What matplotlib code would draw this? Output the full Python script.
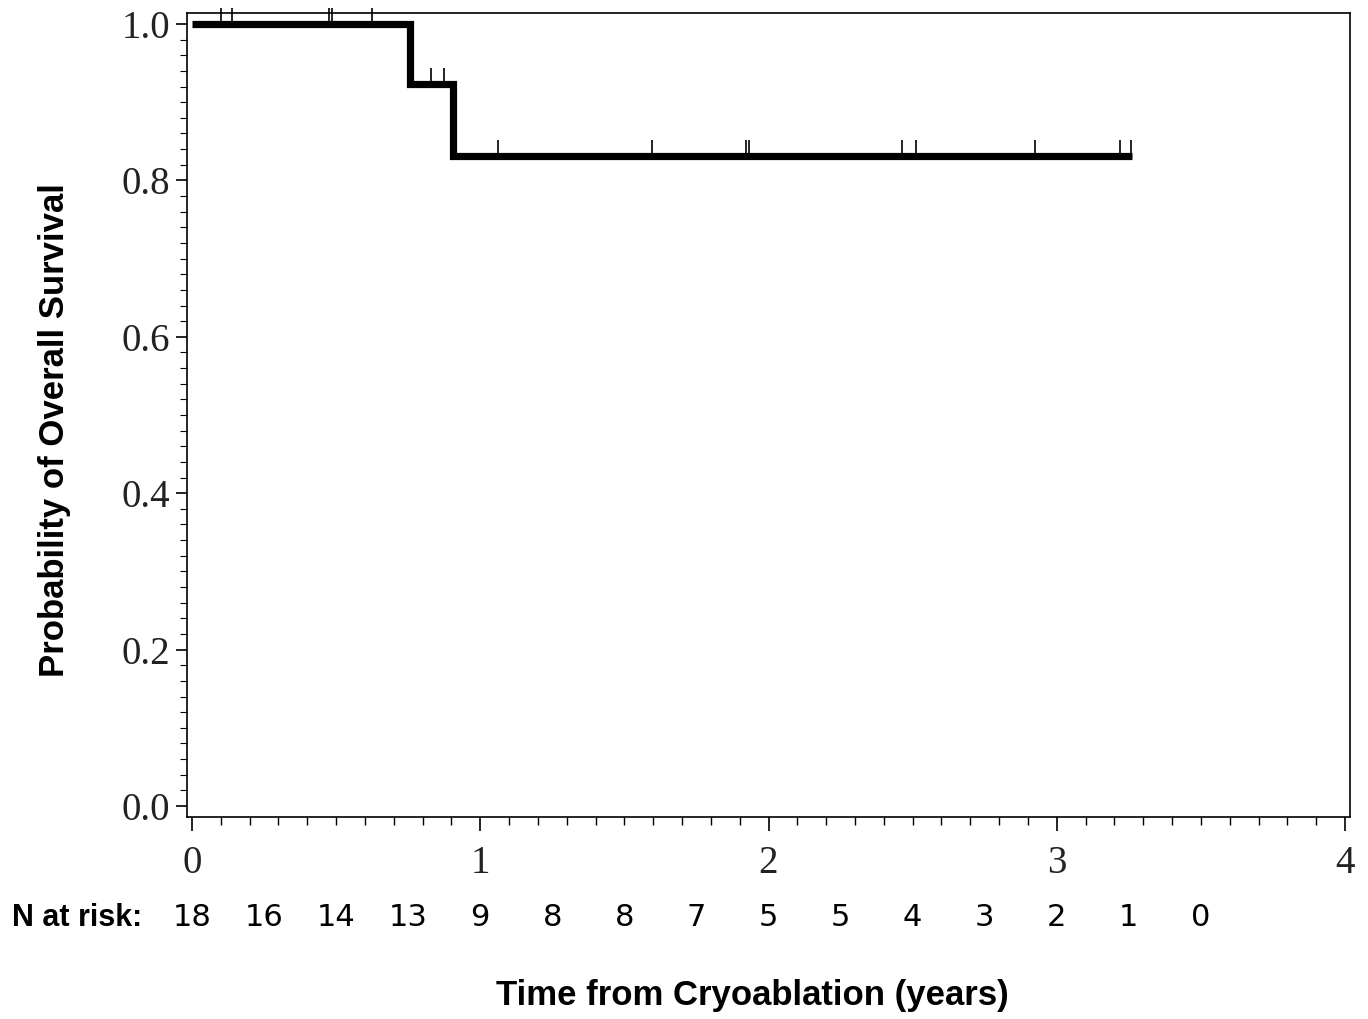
import matplotlib
matplotlib.use("Agg")
import matplotlib.pyplot as plt
import matplotlib.transforms as mtransforms
from matplotlib.ticker import MultipleLocator
import numpy as np

# ── data ──
step_times = [0.0, 0.757, 0.906, 3.262]
step_surv = [1.0, 0.923, 0.831, 0.831]
censor_times = [0.102, 0.138, 0.474, 0.485, 0.624,
                0.830, 0.873,
                1.061, 1.595, 1.921, 1.931, 2.462, 2.510, 2.923, 3.221, 3.258]
risk_times = [0, 0.25, 0.5, 0.75, 1.0, 1.25, 1.5, 1.75, 2.0, 2.25, 2.5, 2.75, 3.0, 3.25, 3.5]
risk_counts = [18, 16, 14, 13, 9, 8, 8, 7, 5, 5, 4, 3, 2, 1, 0]

W, H = 1368, 1019
fig = plt.figure(figsize=(W / 100, H / 100), dpi=100)
ax = fig.add_axes([187 / W, 1 - 817 / H, (1350 - 187) / W, (817 - 13) / H])

# survival step curve
ax.step(step_times, step_surv, where="post", color="black", linewidth=5.2,
        solid_joinstyle="miter", solid_capstyle="butt", zorder=3)

# censor marks (short ticks above the curve)
def surv_at(t):
    idx = np.searchsorted(step_times, t, side="right") - 1
    return step_surv[idx]

cs = [surv_at(t) for t in censor_times]
ax.vlines(censor_times, cs, [s + 0.021 for s in cs], color="black",
          linewidth=1.2, clip_on=False, zorder=4)

ax.set_xlim(-5 / 288.25, 4 + 5 / 288.25)
ax.set_ylim(-11 / 782, 1 + 11 / 782)

ax.xaxis.set_minor_locator(MultipleLocator(0.1))
ax.yaxis.set_minor_locator(MultipleLocator(0.02))
ax.set_yticks(np.arange(0, 1.01, 0.2))
ax.set_yticklabels([f"{v:.1f}" for v in np.arange(0, 1.01, 0.2)])
ax.set_xticks([0, 1, 2, 3, 4])
ax.set_xticklabels(["0", "1", "2", "3", "4"])

serif = ["Liberation Serif", "DejaVu Serif"]
for lab in ax.get_xticklabels() + ax.get_yticklabels():
    lab.set_family(serif)
    lab.set_fontsize(28)
    lab.set_color("#222222")

ax.tick_params(axis="x", which="major", direction="out", length=10, width=1.2, pad=10)
ax.tick_params(axis="x", which="minor", direction="out", length=6, width=1.0)
ax.tick_params(axis="y", which="major", direction="out", length=8, width=1.2, pad=4)
ax.tick_params(axis="y", which="minor", direction="out", length=5, width=0.8)
for sp in ax.spines.values():
    sp.set_linewidth(1.2)

# axis labels
fig.text(55 / W, 1 - 430 / H, "Probability of Overall Survival", rotation=90,
         ha="center", va="center", fontsize=25, fontweight="bold",
         family="Liberation Sans")
fig.text(752 / W, 1 - 995 / H, "Time from Cryoablation (years)",
         ha="center", va="center", fontsize=25, fontweight="bold",
         family="Liberation Sans")

# number at risk row
trans = mtransforms.blended_transform_factory(ax.transData, fig.transFigure)
fig.text(12 / W, 1 - 918 / H, "N at risk:", ha="left", va="center",
         fontsize=22, fontweight="bold", family="Liberation Sans")
for t, n in zip(risk_times, risk_counts):
    ax.text(t, 1 - 918 / H, str(n), transform=trans, ha="center", va="center",
            fontsize=22, family="Liberation Sans Narrow", clip_on=False)

fig.savefig("out.png", dpi=100, facecolor="white")
